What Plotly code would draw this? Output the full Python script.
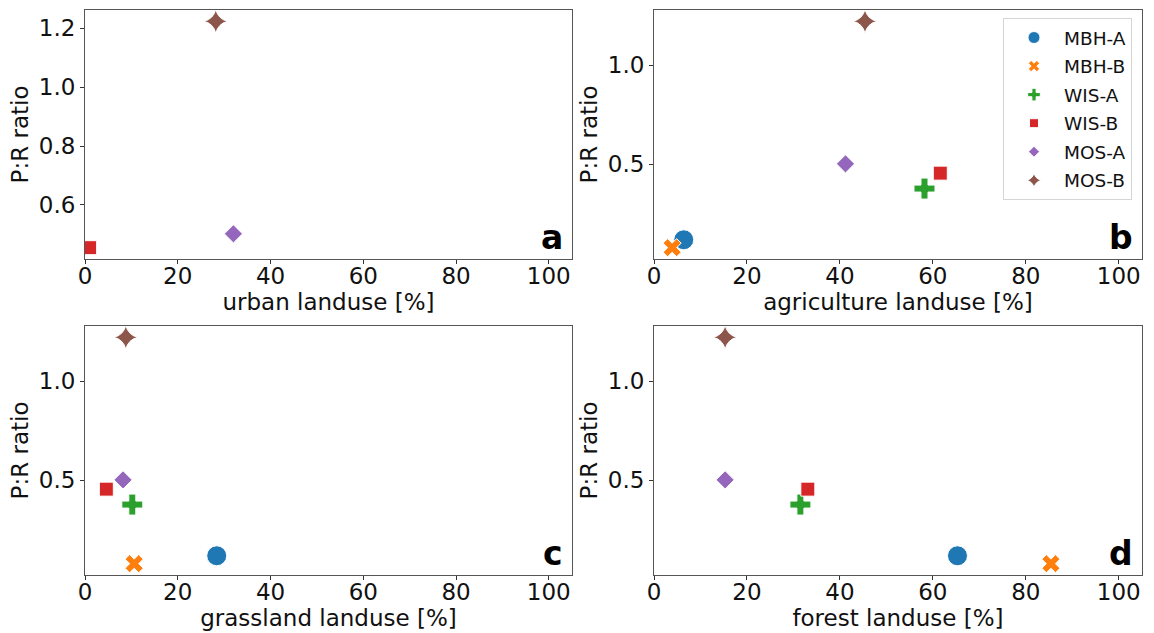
import plotly.graph_objects as go

sites = ["MBH-A", "MBH-B", "WIS-A", "WIS-B", "MOS-A", "MOS-B"]
pr_ratio = [0.118, 0.078, 0.377, 0.455, 0.502, 1.223]
urban = [None, None, None, 1.0, 32.0, 28.2]
agriculture = [6.4, 3.9, 58.2, 61.6, 41.2, 45.4]
grassland = [28.4, 10.6, 10.2, 4.6, 8.2, 8.8]
forest = [65.3, 85.4, 31.5, 33.1, 15.3, 15.3]

colors = ["#1f77b4", "#ff7f0e", "#2ca02c", "#d62728", "#9467bd", "#8c564b"]
symbols = ["circle", "x", "cross", "square", "diamond", "star-diamond"]
sizes = [20, 16, 17.5, 14, 14, 17]
legend_sizes = [12, 10, 10.5, 9, 8.5, 10.5]

panels = [
    ("a", urban, "urban landuse [%]"),
    ("b", agriculture, "agriculture landuse [%]"),
    ("c", grassland, "grassland landuse [%]"),
    ("d", forest, "forest landuse [%]"),
]

W, H = 1154, 633
xdoms = [(85 / W, 572 / W), (654 / W, 1142 / W)]
ydoms = [(1 - 259 / H, 1 - 10 / H), (1 - 575 / H, 1 - 326 / H)]

fig = go.Figure()
font_family = "DejaVu Sans"
FS = 23

for i, (letter, xs, xtitle) in enumerate(panels):
    row, col = divmod(i, 2)
    ax = "" if i == 0 else str(i + 1)
    xref, yref = "x" + ax, "y" + ax
    ys_used = [y for x, y in zip(xs, pr_ratio) if x is not None]
    lo, hi = min(ys_used), max(ys_used)
    pad = 0.05 * (hi - lo)
    for j, s in enumerate(sites):
        if xs[j] is None:
            continue
        fig.add_trace(go.Scatter(
            x=[xs[j]], y=[pr_ratio[j]], mode="markers", name=s, legendgroup=s,
            marker=dict(color=colors[j], symbol=symbols[j], size=sizes[j],
                        line=dict(color="white", width=1)),
            xaxis=xref, yaxis=yref, showlegend=False, cliponaxis=True,
        ))
    axis_common = dict(showline=True, linecolor="#555", linewidth=1, mirror=True,
                       ticks="outside", ticklen=4, tickcolor="#333",
                       showgrid=False, zeroline=False, automargin=False,
                       tickfont=dict(size=FS, color="#111", family=font_family))
    fig.layout["xaxis" + ax] = dict(
        domain=xdoms[col], anchor=yref, range=[0, 105], tick0=0, dtick=20,
        ticklabelstandoff=-8,
        title=dict(text=xtitle, font=dict(size=FS, color="#111", family=font_family), standoff=2),
        **axis_common)
    fig.layout["yaxis" + ax] = dict(
        domain=ydoms[row], anchor=xref, range=[lo - pad, hi + pad],
        tick0=0, dtick=0.2 if i == 0 else 0.5, tickformat=".1f",
        title=dict(text="P:R ratio", font=dict(size=FS, color="#111", family=font_family), standoff=3),
        **axis_common)
    fig.add_annotation(text="<b>%s</b>" % letter, xref=xref + " domain", yref=yref + " domain",
                       x=0.985, y=0.0, xanchor="right", yanchor="bottom", showarrow=False,
                       font=dict(size=33, color="black", family=font_family))

# legend-only entries (smaller symbols, as in the reference legend)
for j, s in enumerate(sites):
    fig.add_trace(go.Scatter(
        x=[None], y=[None], mode="markers", name=s, legendgroup=s,
        marker=dict(color=colors[j], symbol=symbols[j], size=legend_sizes[j],
                    line=dict(color="white", width=1)),
        xaxis="x2", yaxis="y2", showlegend=True,
    ))

fig.update_layout(
    width=W, height=H, margin=dict(l=0, r=0, t=0, b=0, autoexpand=False),
    plot_bgcolor="white", paper_bgcolor="white",
    font=dict(family=font_family, color="#111"),
    legend=dict(x=1132 / W, y=1 - 18 / H, xanchor="right", yanchor="top",
                bgcolor="white", bordercolor="#d5d5d5", borderwidth=1,
                font=dict(size=18.5, family=font_family), itemwidth=50,
                tracegroupgap=1.5, traceorder="grouped"),
)

fig.write_html("out.html", config={"displayModeBar": False},
               post_script="document.body.style.margin='0';document.body.style.overflow='hidden';")
